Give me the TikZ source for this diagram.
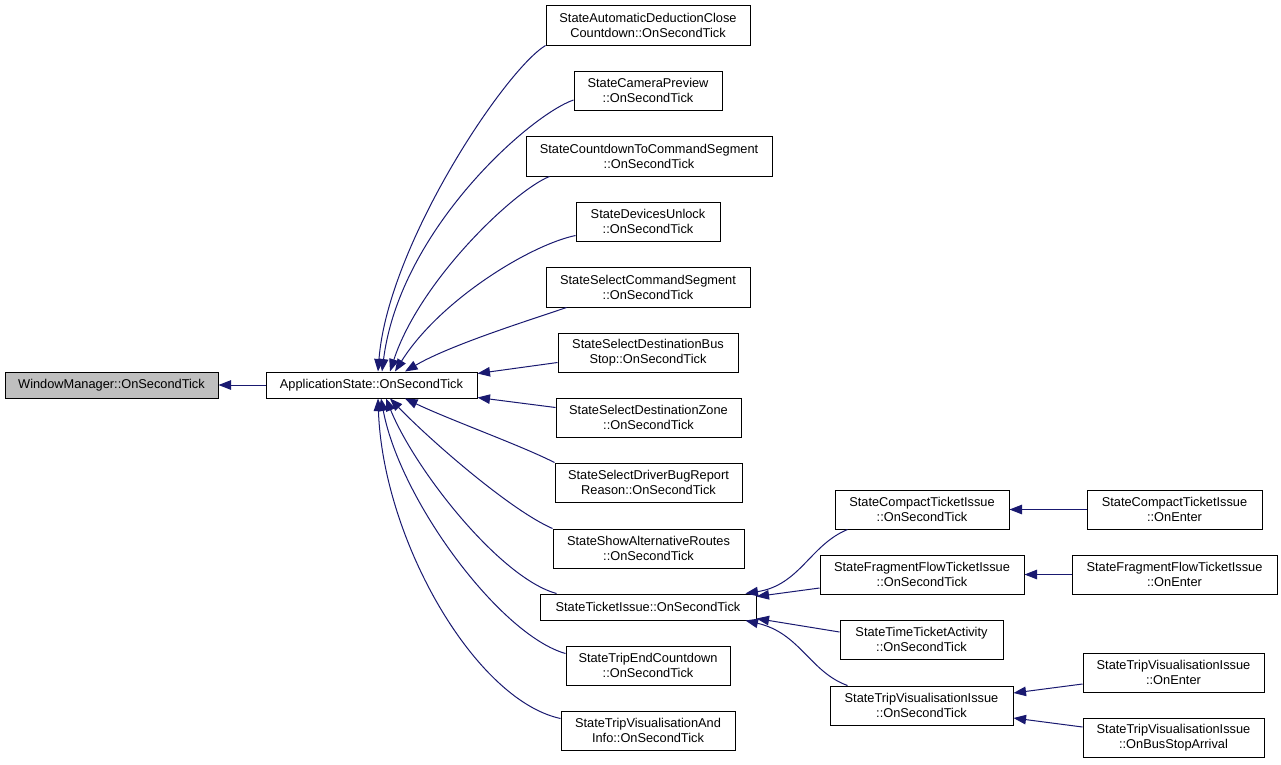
\documentclass[tikz,border=0pt]{standalone}
\usepackage{fontspec}
\setmainfont{Liberation Sans}
\usetikzlibrary{arrows.meta}
\definecolor{edgeblue}{HTML}{191970}
\definecolor{wmgray}{HTML}{BFBFBF}
\begin{document}
\begin{tikzpicture}[x=1pt,y=-1pt,
  box/.style={draw=black,line width=1pt,fill=white,inner sep=0pt,align=center,
    font=\fontsize{12.8}{15}\selectfont,text=black},
  hl/.style={box,fill=wmgray},
  edge/.style={draw=edgeblue,line width=1pt,-{Triangle[length=12.5pt,width=9.5pt]}},
]
\fill[white] (0,0) rectangle (1281,764);
\useasboundingbox (0,0) rectangle (1281,764);

\node[hl, minimum width=213pt, minimum height=26pt] (wm) at (111.5,385) {WindowManager::OnSecondTick};
\node[box, minimum width=211pt, minimum height=26pt] (as) at (371.5,385) {ApplicationState::OnSecondTick};

\node[box, minimum width=204pt, minimum height=40pt] (a1) at (648,25) {StateAutomaticDeductionClose\\Countdown::OnSecondTick};
\node[box, minimum width=148pt, minimum height=39pt] (a2) at (648,90.5) {StateCameraPreview\\::OnSecondTick};
\node[box, minimum width=246pt, minimum height=40pt] (a3) at (649,156) {StateCountdownToCommandSegment\\::OnSecondTick};
\node[box, minimum width=144pt, minimum height=39pt] (a4) at (648,221.5) {StateDevicesUnlock\\::OnSecondTick};
\node[box, minimum width=204pt, minimum height=40pt] (a5) at (648,287) {StateSelectCommandSegment\\::OnSecondTick};
\node[box, minimum width=180pt, minimum height=39pt] (a6) at (648,352.5) {StateSelectDestinationBus\\Stop::OnSecondTick};
\node[box, minimum width=185pt, minimum height=39pt] (a7) at (648.5,417.5) {StateSelectDestinationZone\\::OnSecondTick};
\node[box, minimum width=187pt, minimum height=39pt] (a8) at (648.5,482.5) {StateSelectDriverBugReport\\Reason::OnSecondTick};
\node[box, minimum width=191pt, minimum height=39pt] (a9) at (648.5,548.5) {StateShowAlternativeRoutes\\::OnSecondTick};
\node[box, minimum width=216pt, minimum height=26pt] (a10) at (648,607) {StateTicketIssue::OnSecondTick};
\node[box, minimum width=164pt, minimum height=39pt] (a11) at (648,665.5) {StateTripEndCountdown\\::OnSecondTick};
\node[box, minimum width=174pt, minimum height=39pt] (a12) at (648,730.5) {StateTripVisualisationAnd\\Info::OnSecondTick};

\node[box, minimum width=174pt, minimum height=39pt] (b1) at (922,509.5) {StateCompactTicketIssue\\::OnSecondTick};
\node[box, minimum width=204pt, minimum height=39pt] (b2) at (922,574.5) {StateFragmentFlowTicketIssue\\::OnSecondTick};
\node[box, minimum width=163pt, minimum height=39pt] (b3) at (921.5,639.5) {StateTimeTicketActivity\\::OnSecondTick};
\node[box, minimum width=183pt, minimum height=39pt] (b4) at (921.5,705.5) {StateTripVisualisationIssue\\::OnSecondTick};

\node[box, minimum width=175pt, minimum height=39pt] (c1) at (1174.5,509.5) {StateCompactTicketIssue\\::OnEnter};
\node[box, minimum width=205pt, minimum height=39pt] (c2) at (1174.5,574.5) {StateFragmentFlowTicketIssue\\::OnEnter};
\node[box, minimum width=181pt, minimum height=39pt] (c3) at (1173.5,672.5) {StateTripVisualisationIssue\\::OnEnter};
\node[box, minimum width=181pt, minimum height=39pt] (c4) at (1173.5,737.5) {StateTripVisualisationIssue\\::OnBusStopArrival};

% edges
\draw[edge] (as.west) -- (wm.east);

\draw[edge] (a1.south west) .. controls (505,70) and (388,245) .. ([xshift=6.5pt]as.north);
\draw[edge] ([yshift=-9.5pt]a2.west) .. controls (530,115) and (400,230) .. ([xshift=10.5pt]as.north);
\draw[edge] ([xshift=24pt]a3.south west) .. controls (515,190) and (420,280) .. ([xshift=18.5pt]as.north);
\draw[edge] ([yshift=-14pt]a4.west) .. controls (530,245) and (440,300) .. ([xshift=23.5pt]as.north);
\draw[edge] ([xshift=21pt]a5.south west) .. controls (530,320) and (450,345) .. ([xshift=33.5pt]as.north);
\draw[edge] ([yshift=-10pt]a6.west) -- ([yshift=-2pt]as.north east);
\draw[edge] ([yshift=10pt]a7.west) -- ([yshift=1pt]as.south east);
\draw[edge] (a8.north west) .. controls (520,445) and (450,420) .. ([xshift=33.5pt]as.south);
\draw[edge] (a9.north west) .. controls (510,510) and (430,440) .. ([xshift=18.5pt]as.south);
\draw[edge] ([xshift=17pt]a10.north west) .. controls (500,578) and (415,470) .. ([xshift=14.5pt]as.south);
\draw[edge] ([yshift=12pt]a11.west) .. controls (500,635) and (400,500) .. ([xshift=9.5pt]as.south);
\draw[edge] ([yshift=12pt]a12.west) .. controls (475,700) and (383,540) .. ([xshift=6.5pt]as.south);

\draw[edge] ([xshift=13pt]b1.south west) .. controls (810,545) and (800,585) .. ([xshift=-11pt]a10.north east);
\draw[edge] ([yshift=-13.5pt]b2.west) -- ([yshift=-3pt]a10.north east);
\draw[edge] ([yshift=7.5pt]b3.west) -- ([yshift=2pt]a10.south east);
\draw[edge] ([xshift=18pt]b4.north west) .. controls (810,672) and (800,633) .. ([xshift=-11pt]a10.south east);

\draw[edge] (c1.west) -- (b1.east);
\draw[edge] (c2.west) -- (b2.east);
\draw[edge] ([yshift=-11.5pt]c3.west) -- ([yshift=12.5pt]b4.east);
\draw[edge] ([yshift=10.5pt]c4.west) -- ([yshift=-12.5pt]b4.east);
\end{tikzpicture}
\end{document}
